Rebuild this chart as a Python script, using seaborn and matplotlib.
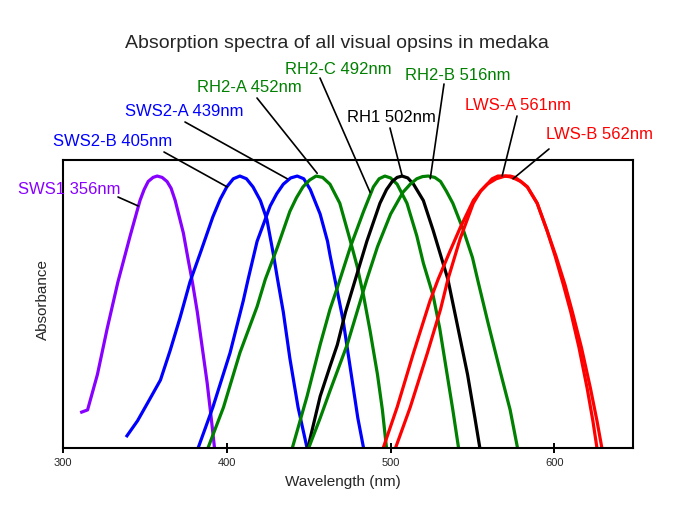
import matplotlib
matplotlib.use('Agg')
import matplotlib.pyplot as plt
import seaborn as sns

# wavelength (nm) / relative absorbance
sws1_nm = [310.5, 315, 321, 327, 333.5, 341, 347, 349.5, 352, 355, 357.5, 360.5, 363.5, 366, 368.5, 373.5, 376.5, 379, 382, 385, 388, 390.5, 392.5]
sws1_abs = [0.13, 0.14, 0.27, 0.44, 0.61, 0.78, 0.91, 0.95, 0.98, 0.995, 1.0, 0.995, 0.98, 0.955, 0.91, 0.79, 0.69, 0.61, 0.50, 0.37, 0.24, 0.11, 0.0]

sws2b_nm = [338.5, 345.5, 353, 359.5, 365.5, 371.5, 377.5, 384, 391.5, 396, 400, 404, 408, 412, 416, 420.5, 424.5, 428.5, 431, 434.5, 438.5, 443.5, 449]
sws2b_abs = [0.04, 0.10, 0.18, 0.25, 0.36, 0.48, 0.61, 0.72, 0.85, 0.915, 0.96, 0.99, 1.0, 0.99, 0.96, 0.91, 0.84, 0.71, 0.62, 0.50, 0.33, 0.15, 0.0]

sws2a_nm = [382.5, 391.5, 402, 410, 413, 418.5, 426.5, 430.5, 434.5, 439, 443, 447, 451, 457, 461.5, 463, 466, 471, 474, 477, 480, 483.5]
sws2a_abs = [0.0, 0.15, 0.35, 0.54, 0.62, 0.76, 0.89, 0.935, 0.97, 0.993, 1.0, 0.99, 0.95, 0.86, 0.76, 0.71, 0.62, 0.47, 0.35, 0.23, 0.11, 0.0]

rh2a_nm = [388.5, 398, 408, 418.5, 423.5, 431, 438.5, 442.5, 446.5, 450.5, 454.5, 458.5, 463, 469, 475.5, 479.5, 483.5, 487.5, 492, 495, 497.5]
rh2a_abs = [0.0, 0.15, 0.35, 0.52, 0.62, 0.74, 0.87, 0.92, 0.96, 0.985, 1.0, 0.995, 0.97, 0.90, 0.76, 0.67, 0.56, 0.43, 0.27, 0.14, 0.0]

rh2c_nm = [440, 449, 457, 463, 467.5, 475.5, 483.5, 489.5, 493, 496.5, 500, 504, 510, 516, 520, 523, 526, 530, 534, 538, 541.5]
rh2c_abs = [0.0, 0.19, 0.38, 0.51, 0.59, 0.74, 0.87, 0.96, 0.99, 1.0, 0.993, 0.97, 0.90, 0.78, 0.68, 0.62, 0.56, 0.44, 0.29, 0.14, 0.0]

rh1_nm = [449.5, 457, 463, 467.5, 472.5, 478.5, 485.5, 493.5, 497.5, 501, 504, 507, 510.5, 514, 520, 526, 530.5, 535, 540.5, 547, 551.5, 554.5]
rh1_abs = [0.0, 0.19, 0.30, 0.38, 0.50, 0.62, 0.76, 0.90, 0.95, 0.98, 0.995, 1.0, 0.993, 0.97, 0.91, 0.80, 0.71, 0.62, 0.46, 0.27, 0.11, 0.0]

rh2b_nm = [450, 457, 463, 473.5, 479.5, 485.5, 492, 500, 507.5, 512, 516, 519.5, 523, 527, 530.5, 534, 538, 544.5, 550, 553.5, 559.5, 567, 573, 577.5]
rh2b_abs = [0.0, 0.11, 0.21, 0.38, 0.50, 0.62, 0.74, 0.86, 0.94, 0.97, 0.99, 0.998, 1.0, 0.995, 0.98, 0.945, 0.90, 0.80, 0.70, 0.61, 0.46, 0.28, 0.14, 0.0]

lwsa_nm = [495.5, 504, 514, 524, 529, 536, 542.5, 550.5, 555, 559, 562, 565.5, 570, 573, 576, 579.5, 583.5, 589.5, 595.5, 600.5, 605.5, 610, 615, 620, 623.5, 626]
lwsa_abs = [0.0, 0.15, 0.35, 0.54, 0.62, 0.72, 0.81, 0.91, 0.945, 0.97, 0.99, 1.0, 1.0, 0.997, 0.99, 0.98, 0.96, 0.90, 0.80, 0.705, 0.60, 0.50, 0.37, 0.22, 0.10, 0.0]

lwsb_nm = [503, 512, 522.5, 530.5, 535, 542.5, 550.5, 555, 559, 564.5, 570, 573, 576, 579.5, 583.5, 589.5, 595.5, 601, 606.5, 611, 616.5, 622, 626, 629]
lwsb_abs = [0.0, 0.15, 0.35, 0.51, 0.62, 0.77, 0.90, 0.945, 0.97, 0.99, 1.0, 1.0, 0.995, 0.98, 0.96, 0.90, 0.80, 0.705, 0.60, 0.50, 0.37, 0.22, 0.10, 0.0]

PURPLE = '#8800ff'
BLUE = '#0000ff'
GREEN = '#008000'
RED = '#ff0000'

curves = [
    (sws1_nm, sws1_abs, PURPLE),
    (sws2b_nm, sws2b_abs, BLUE),
    (sws2a_nm, sws2a_abs, BLUE),
    (rh2a_nm, rh2a_abs, GREEN),
    (rh2c_nm, rh2c_abs, GREEN),
    (rh1_nm, rh1_abs, 'black'),
    (rh2b_nm, rh2b_abs, GREEN),
    (lwsa_nm, lwsa_abs, RED),
    (lwsb_nm, lwsb_abs, RED),
]

sns.set_style('white')
plt.rcParams['font.family'] = ['Liberation Sans', 'DejaVu Sans']

W, H = 680, 510


def fp(x, y):
    # pixel position (from top-left) -> figure fraction
    return (x / W, 1 - y / H)


fig = plt.figure(figsize=(6.8, 5.1), dpi=100)
ax = fig.add_axes([63 / W, 61 / H, 570 / W, 288 / H])

for xs, ys, col in curves:
    sns.lineplot(x=xs, y=ys, ax=ax, color=col, lw=2.3, sort=False,
                 estimator=None, solid_joinstyle='round', solid_capstyle='butt')

ax.set_xlim(300, 648)
ax.set_ylim(0, 1.059)
ax.set_xticks([300, 400, 500, 600])
ax.set_yticks([])
ax.tick_params(axis='x', bottom=True, direction='inout', length=7, width=1.4,
               labelsize=8, pad=3, color='black')
ax.set_xlabel('')
ax.set_ylabel('')
for s in ax.spines.values():
    s.set_visible(True)
    s.set_color('black')
    s.set_linewidth(1.5)

fig.text(*fp(337, 43), 'Absorption spectra of all visual opsins in medaka',
         ha='center', va='center', fontsize=14)
fig.text(*fp(343, 482), 'Wavelength (nm)', ha='center', va='center', fontsize=11)
fig.text(*fp(43, 299), 'Absorbance', ha='center', va='center', rotation=90, fontsize=11)

# opsin labels with leader lines: (text, colour, label pos px, line start px, tip in data)
labels = [
    ('SWS1 356nm', PURPLE, (18, 190), (118, 198), (345.9, 0.89)),
    ('SWS2-B 405nm', BLUE, (53, 141), (164, 153), (400.2, 0.96)),
    ('SWS2-A 439nm', BLUE, (125, 111), (185, 123), (436.9, 0.99)),
    ('RH2-A 452nm', GREEN, (197, 88), (257, 99), (455.2, 1.01)),
    ('RH2-C 492nm', GREEN, (285, 70), (320, 79), (487.5, 0.94)),
    ('RH1 502nm', 'black', (347, 118), (390, 129), (507.1, 1.0)),
    ('RH2-B 516nm', GREEN, (405, 76), (444, 85), (524.2, 0.99)),
    ('LWS-A 561nm', RED, (465, 106), (517, 117), (568.1, 1.0)),
    ('LWS-B 562nm', RED, (546, 135), (549, 150), (574.8, 0.99)),
]
for txt, col, tpos, start, tip in labels:
    fig.text(*fp(*tpos), txt, color=col, ha='left', va='center', fontsize=12)
    ax.annotate('', xy=tip, xycoords='data', xytext=fp(*start),
                textcoords='figure fraction',
                arrowprops=dict(arrowstyle='-', color='black', lw=1.2,
                                shrinkA=0, shrinkB=0))

fig.savefig('out.png', dpi=100)
